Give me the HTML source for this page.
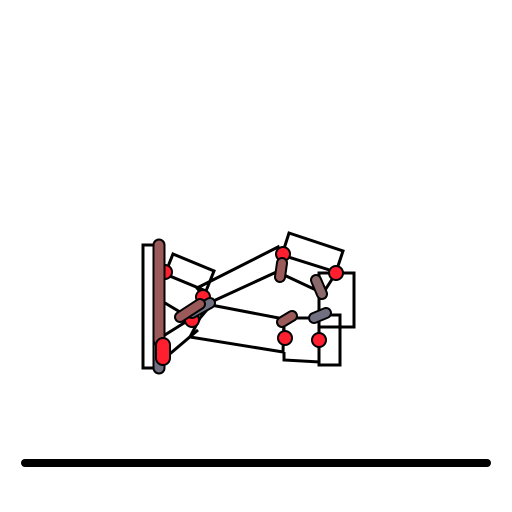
<!DOCTYPE html>
<html><head><meta charset="utf-8"><style>html,body{margin:0;padding:0;background:#fff}svg{display:block}</style></head>
<body>
<svg width="512" height="512" viewBox="0 0 512 512">
<g fill="none" stroke="#000" stroke-width="3" stroke-linejoin="miter">
<rect x="143" y="245" width="16" height="123"/>
<polygon points="173,254 214,271 206,291 165,274"/>
<polygon points="197,288 278,247 283,269 209,303"/>
<polygon points="289,233 343,251 336,272 282,255"/>
<polygon points="211,305 284,319 283,352 190,337 200,318"/>
<polyline points="284,352 284,360 320,362"/>
<rect x="319" y="273" width="35" height="54"/>
<rect x="319" y="315" width="21" height="50"/>
<line x1="160" y1="300" x2="180" y2="312"/>
<line x1="160" y1="338" x2="192" y2="318"/>
<line x1="165" y1="358" x2="198" y2="330"/>
<line x1="284" y1="275" x2="316" y2="290"/>
<line x1="292" y1="318" x2="316" y2="318"/>
<line x1="284" y1="322" x2="284" y2="338"/>
<line x1="319" y1="320" x2="319" y2="340"/>
<line x1="320" y1="298" x2="336" y2="273"/>
</g>
<g stroke="#000" stroke-width="2" fill="#ff1f2f">
<circle cx="165" cy="272" r="7"/>
<circle cx="203" cy="297" r="7"/>
<circle cx="192" cy="320" r="7"/>
<circle cx="283" cy="254" r="7"/>
<circle cx="336" cy="273" r="7"/>
<circle cx="285" cy="338" r="7"/>
<circle cx="319" cy="340" r="7"/>
</g>
<g stroke-linecap="round">
<line x1="159" y1="342" x2="159" y2="368" stroke="#000" stroke-width="13"/>
<line x1="159" y1="342" x2="159" y2="368" stroke="#707080" stroke-width="9"/>
<line x1="159" y1="245" x2="159" y2="340" stroke="#000" stroke-width="13"/>
<line x1="159" y1="245" x2="159" y2="340" stroke="#9a5a5a" stroke-width="9"/>
<line x1="163" y1="345" x2="163" y2="358" stroke="#000" stroke-width="16"/>
<line x1="163" y1="345" x2="163" y2="358" stroke="#ff1f2f" stroke-width="12"/>
<line x1="192" y1="313" x2="210" y2="303" stroke="#000" stroke-width="12"/>
<line x1="192" y1="313" x2="210" y2="303" stroke="#707080" stroke-width="8"/>
<line x1="180" y1="317" x2="200" y2="304" stroke="#000" stroke-width="12"/>
<line x1="180" y1="317" x2="200" y2="304" stroke="#9a5a5a" stroke-width="8"/>
<line x1="282" y1="263" x2="280" y2="277" stroke="#000" stroke-width="12"/>
<line x1="282" y1="263" x2="280" y2="277" stroke="#9a5a5a" stroke-width="8"/>
<line x1="316" y1="280" x2="322" y2="294" stroke="#000" stroke-width="12"/>
<line x1="316" y1="280" x2="322" y2="294" stroke="#8a6a6a" stroke-width="8"/>
<line x1="282" y1="322" x2="292" y2="316" stroke="#000" stroke-width="12"/>
<line x1="282" y1="322" x2="292" y2="316" stroke="#9a5a5a" stroke-width="8"/>
<line x1="314" y1="318" x2="326" y2="313" stroke="#000" stroke-width="12"/>
<line x1="314" y1="318" x2="326" y2="313" stroke="#707080" stroke-width="8"/>
<line x1="25" y1="463" x2="487" y2="463" stroke="#000" stroke-width="8"/>
</g>
</svg>
</body></html>
